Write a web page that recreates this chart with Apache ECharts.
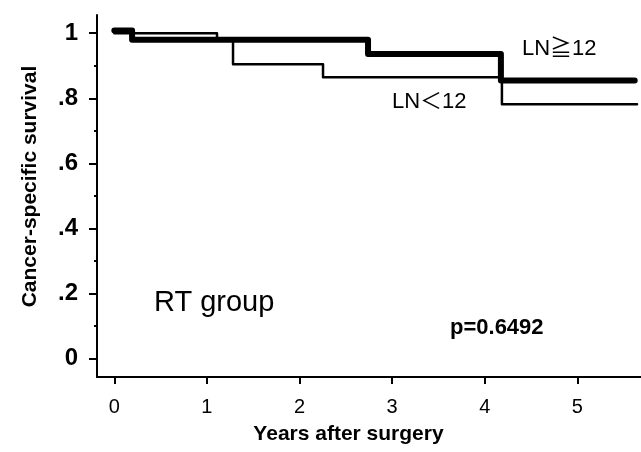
<!DOCTYPE html>
<html>
<head>
<meta charset="utf-8">
<script src="https://cdn.jsdelivr.net/npm/echarts@6/dist/echarts.min.js"></script>
<style>
html,body{margin:0;padding:0;background:#fff;}
#c{width:641px;height:452px;}
</style>
</head>
<body>
<div id="c"></div>
<script>
// ---- data ----
const lnHighTimes = [0, 0.192, 2.74, 4.175, 5.62];
const lnHighSurv  = [1.008, 0.98, 0.936, 0.855, 0.855];
const lnLowTimes  = [0, 1.109, 1.282, 2.254, 4.186, 5.645];
const lnLowSurv   = [1.0, 0.98, 0.905, 0.865, 0.782, 0.782];
const xTickValues = [0, 1, 2, 3, 4, 5];
const xTickLabels = ['0', '1', '2', '3', '4', '5'];
const yTickValues = [0, 0.2, 0.4, 0.6, 0.8, 1];
const yTickLabels = ['0', '.2', '.4', '.6', '.8', '1'];
const yMinorTickValues = [0.1, 0.3, 0.5, 0.7, 0.9];
const seriesNames = ['LN<12', 'LN≥12'];
const groupLabel = 'RT group';
const pLabel = 'p=0.6492';

const FONT = "'Liberation Sans', Arial, 'Noto Sans CJK JP', sans-serif";
function pairs(xs, ys) { return xs.map((x, i) => [x, ys[i]]); }
function lookup(vals, labels) {
  return v => { const i = vals.findIndex(t => Math.abs(t - v) < 1e-6); return i >= 0 ? labels[i] : ''; };
}

const chart = echarts.init(document.getElementById('c'), null, {renderer: 'canvas'});
chart.setOption({
  animation: false,
  backgroundColor: '#fff',
  grid: {left: 97, right: 0, top: 15, bottom: 75, containLabel: false},
  xAxis: {
    type: 'value', min: -0.187, max: 5.688,
    axisLine: {show: true, onZero: false, lineStyle: {color: '#000', width: 2}},
    axisTick: {show: true, customValues: xTickValues, length: 7, lineStyle: {color: '#000', width: 2}},
    axisLabel: {customValues: xTickValues, formatter: lookup(xTickValues, xTickLabels), margin: 20,
      fontSize: 20, color: '#000', fontFamily: FONT},
    splitLine: {show: false},
    name: 'Years after surgery', nameLocation: 'middle', nameGap: 47,
    nameTextStyle: {fontSize: 21, fontWeight: 'bold', color: '#000', fontFamily: FONT, padding: [0, 41, 0, 0]}
  },
  yAxis: [{
    type: 'value', min: -0.0566, max: 1.056,
    axisLine: {show: true, onZero: false, lineStyle: {color: '#000', width: 2}},
    axisTick: {show: true, customValues: yTickValues, length: 8, lineStyle: {color: '#000', width: 2}},
    axisLabel: {customValues: yTickValues, formatter: lookup(yTickValues, yTickLabels), margin: 19,
      fontSize: 24, fontWeight: 'bold', color: '#000', fontFamily: FONT},
    splitLine: {show: false},
    name: 'Cancer-specific survival', nameLocation: 'middle', nameGap: 56, nameRotate: 90,
    nameTextStyle: {fontSize: 21, fontWeight: 'bold', color: '#000', fontFamily: FONT, padding: [0, 0, 0, 19]}
  }, {
    type: 'value', min: -0.0566, max: 1.056, position: 'left',
    axisLine: {show: false, onZero: false},
    axisTick: {show: true, customValues: yMinorTickValues, length: 3, lineStyle: {color: '#000', width: 2}},
    axisLabel: {show: false},
    splitLine: {show: false}
  }],
  series: [{
    name: seriesNames[0], type: 'line', step: 'end', showSymbol: false, symbol: 'none',
    data: pairs(lnLowTimes, lnLowSurv),
    lineStyle: {color: '#000', width: 2.5, cap: 'round', join: 'round'}
  }, {
    name: seriesNames[1], type: 'line', step: 'end', showSymbol: false, symbol: 'none',
    data: pairs(lnHighTimes, lnHighSurv),
    lineStyle: {color: '#000', width: 6, cap: 'round', join: 'round'}
  }],
  graphic: [
    {type: 'text', left: 154, top: 288, style: {text: groupLabel, fontSize: 29, fill: '#000', fontFamily: FONT}},
    {type: 'text', left: 450, top: 317, style: {text: pLabel, fontSize: 22, fontWeight: 'bold', fill: '#000', fontFamily: FONT}},
    {type: 'text', left: 522, top: 38, style: {text: 'LN≧12', fontSize: 22, fill: '#000', fontFamily: FONT}},
    {type: 'text', left: 392, top: 91, style: {text: 'LN＜12', fontSize: 22, fill: '#000', fontFamily: FONT}}
  ]
});
</script>
</body>
</html>
